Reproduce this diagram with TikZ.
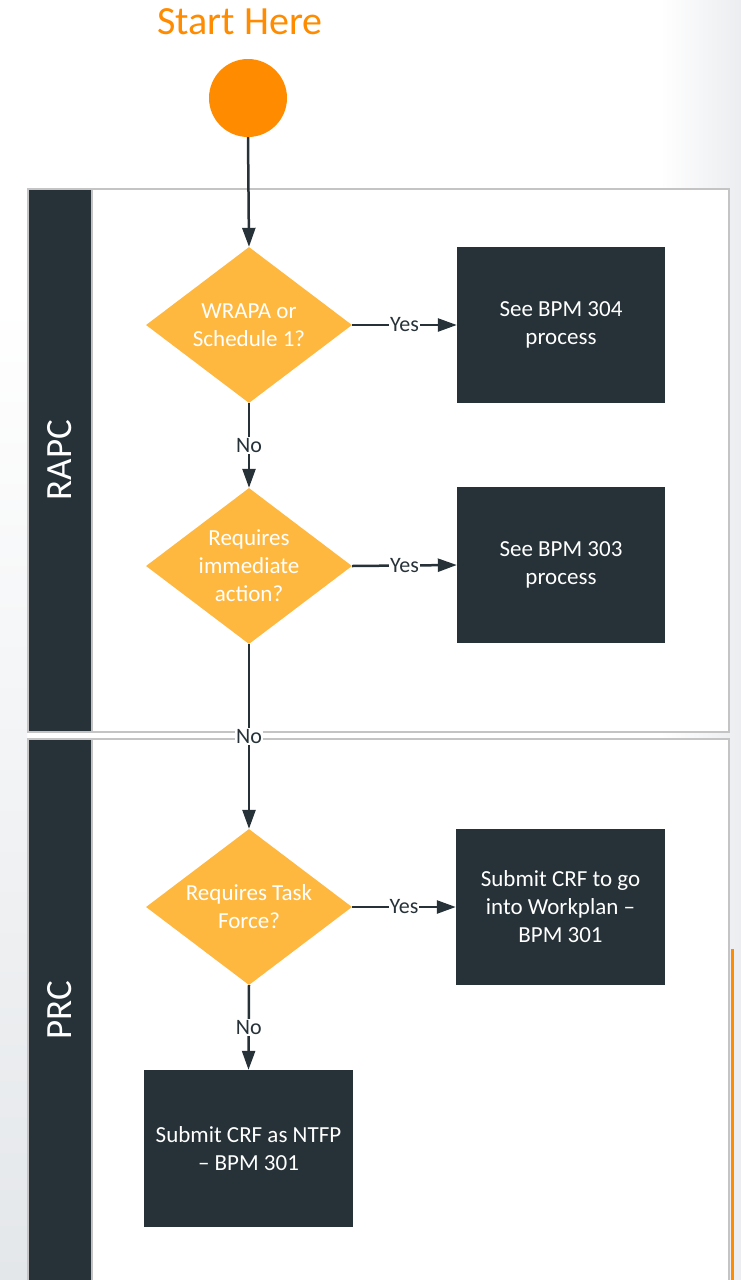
\documentclass[tikz,border=0pt]{standalone}
\usepackage{fontspec}
\setmainfont{Carlito}
\usetikzlibrary{shapes.geometric,arrows.meta}
\definecolor{dark}{HTML}{263238}
\definecolor{amber}{HTML}{FFB83F}
\definecolor{orng}{HTML}{FF8C00}
\definecolor{lanegray}{HTML}{C4C4C4}
\definecolor{bggray}{HTML}{E4E7EA}
\definecolor{bgright}{HTML}{EBEDF0}
\tikzset{
  txt/.style={font=\fontsize{23}{28}\selectfont, text=white, align=center},
  decision/.style={shape=diamond, fill=amber, draw=none, inner sep=0pt,
    minimum width=206pt, minimum height=156pt},
  procbox/.style={rectangle, fill=dark, draw=none, minimum width=208pt,
    minimum height=156pt, txt},
  arr/.style={draw=dark, line width=2.5pt, -{Triangle[width=13pt,length=19pt]}},
  lbl/.style={fill=white, inner sep=1pt, text=dark, font=\fontsize{22}{26}\selectfont},
  lane/.style={draw=lanegray, line width=2pt, fill=white},
  lanehead/.style={draw=lanegray, line width=2pt, fill=dark},
}
\begin{document}
\begin{tikzpicture}[x=1pt,y=-1pt]
\useasboundingbox (0,0) rectangle (741,1280);
% background
\fill[white] (0,0) rectangle (741,1280);
\shade[left color=white, right color=bgright] (660,0) rectangle (741,1280);
\shade[top color=white, bottom color=bggray] (0,300) rectangle (27,1280);
% lanes
\begin{scope}
\clip (0,0) rectangle (741,1280);
\draw[lane] (28,189) rectangle (729,732);
\draw[lanehead] (28,189) rectangle (92,732);
\draw[lane] (28,739) rectangle (729,1300);
\draw[lanehead] (28,739) rectangle (92,1300);
\end{scope}
\node[rotate=90, text=white, font=\fontsize{37}{40}\selectfont] (lrapc) at (60,460) {RAPC};
\node[rotate=90, text=white, font=\fontsize{37}{40}\selectfont] (lprc) at (60,1010) {PRC};
% orange side line
\fill[orng] (731,949) rectangle (734,1280);
% start
\node[text=orng, font=\fontsize{40}{44}\selectfont] (title) at (240,22) {Start Here};
\node[circle, fill=orng, minimum size=78pt, inner sep=0pt] (start) at (248,98) {};
% decisions
\node[decision, label={[txt]center:{WRAPA or\\Schedule 1?}}] (d1) at (249,325) {};
\node[decision, label={[txt]center:{Requires\\immediate\\action?}}] (d2) at (249,566) {};
\node[decision, label={[txt]center:{Requires Task\\Force?}}] (d3) at (249,907) {};
% boxes
\node[procbox] (b1) at (561,325) {See BPM 304\\process};
\node[procbox] (b2) at (561,565) {See BPM 303\\process};
\node[procbox, minimum width=209pt] (b3) at (560.5,907) {Submit CRF to go\\into Workplan \char"2013\\BPM 301};
\node[procbox, minimum width=209pt, minimum height=157pt] (b4) at (248.5,1148.5) {Submit CRF as NTFP\\\char"2013{} BPM 301};
% connectors
\draw[arr] (start.south) -- (d1.north);
\draw[arr] (d1.east) -- node[lbl]{Yes} (b1.west);
\draw[arr] (d1.south) -- node[lbl]{No} (d2.north);
\draw[arr] (d2.east) -- node[lbl]{Yes} (b2.west);
\draw[arr] (d2.south) -- node[lbl]{No} (d3.north);
\draw[arr] (d3.east) -- node[lbl]{Yes} (b3.west);
\draw[arr] (d3.south) -- node[lbl]{No} (b4.north);
\end{tikzpicture}
\end{document}
